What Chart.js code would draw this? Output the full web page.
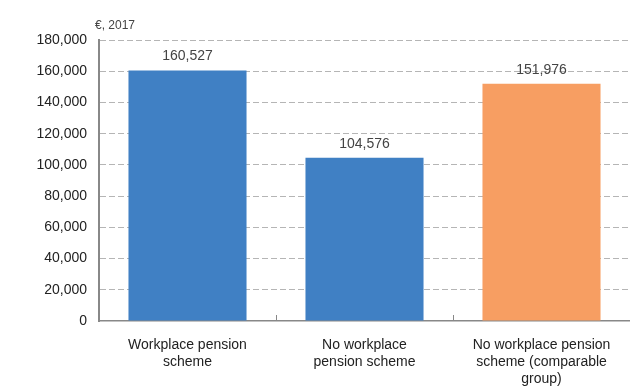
<!DOCTYPE html>
<html>
<head>
<meta charset="utf-8">
<script src="https://cdn.jsdelivr.net/npm/chart.js@4"></script>
<style>
  html, body { margin: 0; padding: 0; background: #fff; }
  #wrap { width: 630px; height: 392px; }
</style>
</head>
<body>
<div id="wrap"><canvas id="chart"></canvas></div>
<script>
// data
let categories = [
  ['Workplace pension', 'scheme'],
  ['No workplace', 'pension scheme'],
  ['No workplace pension', 'scheme (comparable', 'group)']
];
let values = [160527, 104576, 151976];
let barColors = ['#4080c4', '#4080c4', '#f79e62'];
let unitLabel = '€, 2017';
let yMax = 180000;
let yStep = 20000;

let fmt = v => v.toLocaleString('en-US');

// value labels over the bars + unit label + small category ticks
const extras = {
  id: 'extras',
  afterDatasetsDraw(chart) {
    let ctx = chart.ctx;
    let meta = chart.getDatasetMeta(0);
    ctx.save();
    ctx.fillStyle = '#444';
    ctx.font = '14px "Liberation Sans", Arial, sans-serif';
    ctx.textAlign = 'center';
    ctx.textBaseline = 'bottom';
    meta.data.forEach((bar, i) => {
      ctx.fillText(fmt(values[i]), bar.x, bar.y - 7);
    });
    // unit label
    ctx.textAlign = 'left';
    ctx.font = '12px "Liberation Sans", Arial, sans-serif';
    ctx.fillText(unitLabel, chart.chartArea.left - 4, chart.chartArea.top - 8);
    // tick marks between categories
    let xs = chart.scales.x;
    ctx.strokeStyle = '#888';
    ctx.lineWidth = 1;
    for (let i = 0; i < categories.length - 1; i++) {
      let px = Math.round((xs.getPixelForValue(i) + xs.getPixelForValue(i + 1)) / 2) + 0.5;
      ctx.beginPath();
      ctx.moveTo(px, chart.chartArea.bottom);
      ctx.lineTo(px, chart.chartArea.bottom - 6);
      ctx.stroke();
    }
    ctx.restore();
  }
};

new Chart(document.getElementById('chart'), {
  type: 'bar',
  data: {
    labels: categories,
    datasets: [{
      data: values,
      backgroundColor: barColors,
      borderWidth: 0,
      categoryPercentage: 1,
      barPercentage: 0.667
    }]
  },
  options: {
    responsive: true,
    maintainAspectRatio: false,
    animation: false,
    layout: { padding: { top: 40, right: 0, left: 0, bottom: 0 } },
    plugins: {
      legend: { display: false },
      tooltip: { enabled: false }
    },
    scales: {
      x: {
        grid: { display: false },
        border: { display: true, color: '#888', width: 1.5 },
        ticks: {
          color: '#222',
          font: { family: '"Liberation Sans", Arial, sans-serif', size: 14 },
          maxRotation: 0,
          padding: 8
        },
        afterFit(scale) { scale.height = 71; }
      },
      y: {
        min: 0,
        max: yMax,
        grid: {
          color: ctx => ctx.tick && ctx.tick.value === 0 ? 'rgba(0,0,0,0)' : '#b5b5b5',
          drawTicks: false
        },
        border: { display: true, color: '#888', width: 2, dash: [6, 3] },
        ticks: {
          stepSize: yStep,
          color: '#222',
          padding: 12,
          font: { family: '"Liberation Sans", Arial, sans-serif', size: 14 },
          callback: v => fmt(v)
        },
        afterFit(scale) { scale.width = 99; }
      }
    }
  },
  plugins: [extras]
});
</script>
</body>
</html>
